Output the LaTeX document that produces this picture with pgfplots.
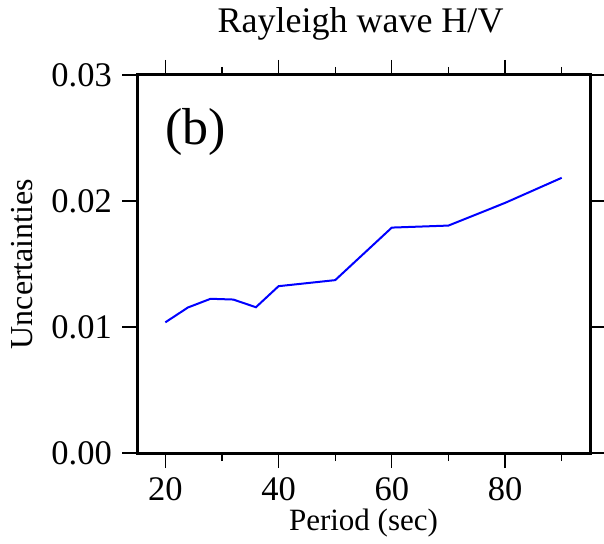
\documentclass[border=0pt]{standalone}
\usepackage{pgfplots}
\pgfplotsset{compat=1.18}
\usepackage{fontspec}
\setmainfont{Liberation Serif}
\usetikzlibrary{calc}
\begin{document}
\begin{tikzpicture}
\begin{axis}[
  scale only axis, width=453pt, height=378pt,
  xmin=15, xmax=95, ymin=0, ymax=0.03,
  scaled y ticks=false,
  xtick={20,40,60,80}, xticklabels={20,40,60,80},
  minor xtick={30,50,70,90},
  ytick={0,0.01,0.02,0.03}, yticklabels={0.00,0.01,0.02,0.03},
  tick align=outside,
  major tick length=15pt, minor tick length=8pt,
  tick style={black, line width=1.3pt},
  axis line style={line width=3pt},
  ticklabel style={font=\fontsize{34.5}{34.5}\selectfont, inner sep=0pt},
  xticklabel style={anchor=base, yshift=-32pt},
  yticklabel style={anchor=east, xshift=-10pt},
  clip=false,
]
\addplot[color={rgb,255:red,0;green,0;blue,255}, line width=2pt] coordinates {
  (20,0.01037) (24,0.01155) (28,0.01224) (32,0.01218) (36,0.01157)
  (40,0.01324) (50,0.01372) (60,0.01789) (70,0.01805) (80,0.01985) (90,0.02184)
};
\coordinate (SW) at (rel axis cs:0,0);
\coordinate (NE) at (rel axis cs:1,1);
\coordinate (T) at (rel axis cs:0.5,1);
\coordinate (B) at (rel axis cs:0.5,0);
\coordinate (L) at (rel axis cs:0,0.5);
\coordinate (TL) at (rel axis cs:0,1);
\end{axis}
\node[anchor=base, inner sep=0pt, font=\fontsize{36}{36}\selectfont] at ($(T)+(-3pt,42pt)$) {Rayleigh wave H/V};
\node[anchor=base, inner sep=0pt, font=\fontsize{31}{31}\selectfont] at ($(B)+(0,-77pt)$) {Period (sec)};
\node[anchor=base, rotate=90, inner sep=0pt, font=\fontsize{32}{32}\selectfont] at ($(L)+(-104pt,0)$) {Uncertainties};
\node[anchor=base west, inner sep=0pt, font=\fontsize{52}{52}\selectfont] at ($(TL)+(28pt,-70pt)$) {(b)};
\pgfresetboundingbox
\path[use as bounding box] ($(SW)+(-137pt,-90pt)$) rectangle ($(NE)+(14pt,75pt)$);
\end{tikzpicture}
\end{document}
